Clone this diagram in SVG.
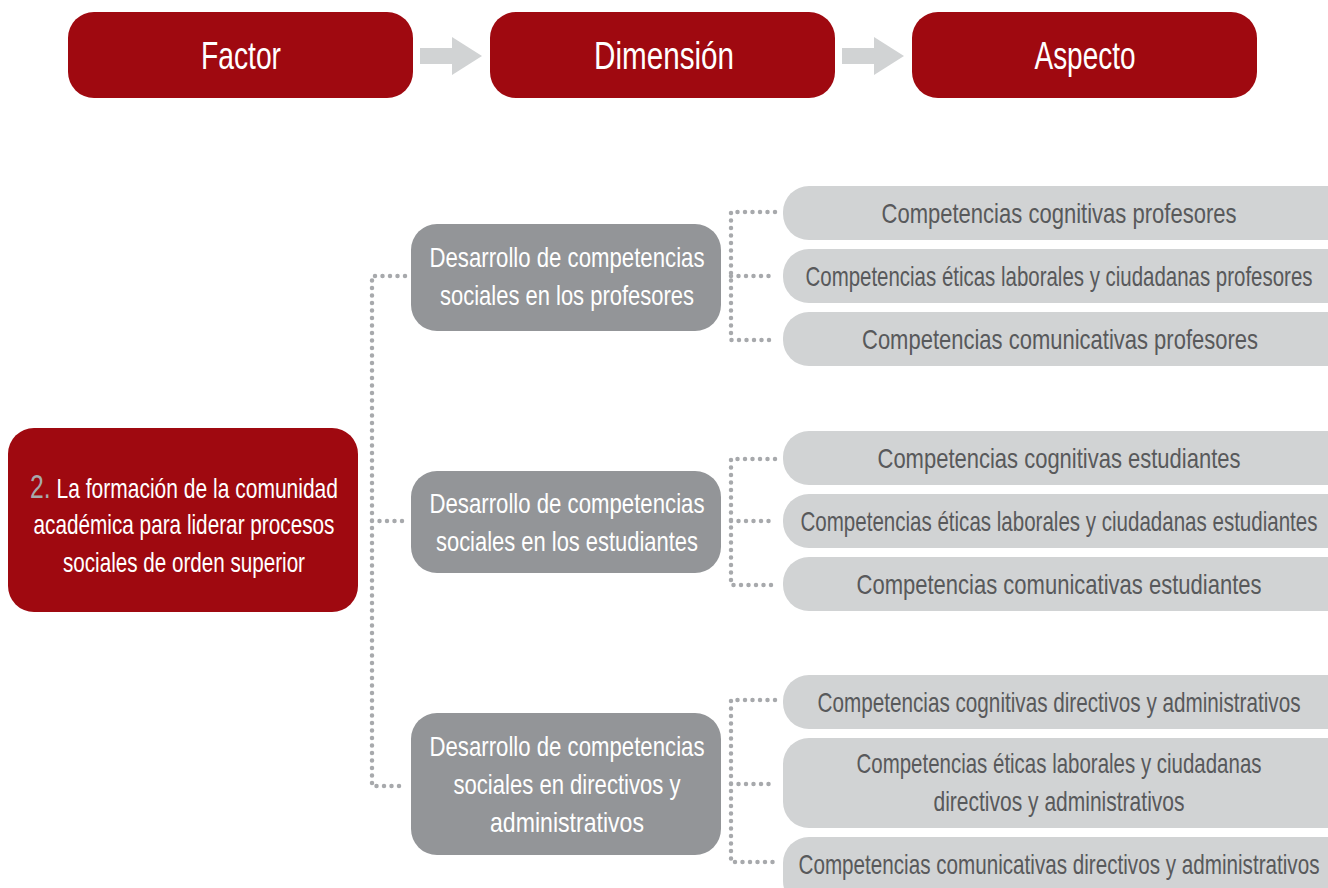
<svg xmlns="http://www.w3.org/2000/svg" width="1328" height="888" viewBox="0 0 1328 888">
<style>
text{font-family:"Liberation Sans",Arial,sans-serif;text-anchor:middle}
.red{fill:#9f0910}
.dim{fill:#939598}
.asp{fill:#d1d3d4}
.hd{fill:#fff;font-size:39px}
.wt{fill:#fff;font-size:28px}
.at{fill:#58595b;font-size:28px}
.dot{fill:none;stroke:#a7a9ac;stroke-width:4.5;stroke-linecap:round;stroke-dasharray:0 7.5}
.arr{fill:#d1d3d4}
</style>
<rect width="1328" height="888" fill="#fff"/>
<g id="header">
<g id="h-factor"><rect class="red" x="68" y="12" width="345" height="86" rx="26"/><text class="hd" x="241" y="69" textLength="80" lengthAdjust="spacingAndGlyphs">Factor</text></g>
<g id="h-dimension"><rect class="red" x="490" y="12" width="345" height="86" rx="26"/><text class="hd" x="664" y="69" textLength="140" lengthAdjust="spacingAndGlyphs">Dimensión</text></g>
<g id="h-aspecto"><rect class="red" x="912" y="12" width="345" height="86" rx="26"/><text class="hd" x="1085" y="69" textLength="101" lengthAdjust="spacingAndGlyphs">Aspecto</text></g>
<polygon class="arr" points="420,48 452,48 452,37 482,56 452,75 452,64 420,64"/>
<polygon class="arr" points="842,48 874,48 874,37 904,56 874,75 874,64 842,64"/>
</g>
<g id="connectors">
<path class="dot" d="M405,276 H372 V786 H405 M372,521 H405"/>
<path class="dot" d="M775,212 H731 V340 H775 M731,276 H775"/>
<path class="dot" d="M775,459 H731 V585 H775 M731,521 H775"/>
<path class="dot" d="M775,700 H731 V862 H775 M731,784 H775"/>
</g>
<g id="factor">
<rect class="red" x="8" y="428" width="350" height="184" rx="26"/>
<text class="wt" x="184" y="498" textLength="308" lengthAdjust="spacingAndGlyphs"><tspan fill="#a7a9ac" font-size="33">2.</tspan> La formación de la comunidad</text>
<text class="wt" x="184" y="534" textLength="301" lengthAdjust="spacingAndGlyphs">académica para liderar procesos</text>
<text class="wt" x="184" y="572" textLength="242" lengthAdjust="spacingAndGlyphs">sociales de orden superior</text>
</g>
<g id="dim-profesores">
<rect class="dim" x="411" y="224" width="310" height="107" rx="26"/>
<text class="wt" x="567" y="267" textLength="275" lengthAdjust="spacingAndGlyphs">Desarrollo de competencias</text>
<text class="wt" x="567" y="305" textLength="254" lengthAdjust="spacingAndGlyphs">sociales en los profesores</text>
</g>
<g id="dim-estudiantes">
<rect class="dim" x="411" y="471" width="310" height="102" rx="26"/>
<text class="wt" x="567" y="513" textLength="275" lengthAdjust="spacingAndGlyphs">Desarrollo de competencias</text>
<text class="wt" x="567" y="551" textLength="262" lengthAdjust="spacingAndGlyphs">sociales en los estudiantes</text>
</g>
<g id="dim-directivos">
<rect class="dim" x="411" y="713" width="310" height="142" rx="26"/>
<text class="wt" x="567" y="756" textLength="275" lengthAdjust="spacingAndGlyphs">Desarrollo de competencias</text>
<text class="wt" x="567" y="794" textLength="227" lengthAdjust="spacingAndGlyphs">sociales en directivos y</text>
<text class="wt" x="567" y="832" textLength="154" lengthAdjust="spacingAndGlyphs">administrativos</text>
</g>
<g id="asp-p1"><rect class="asp" x="783" y="186" width="570" height="54" rx="26"/><text class="at" x="1059" y="223" textLength="355" lengthAdjust="spacingAndGlyphs">Competencias cognitivas profesores</text></g>
<g id="asp-p2"><rect class="asp" x="783" y="249" width="570" height="54" rx="26"/><text class="at" x="1059" y="286" textLength="507" lengthAdjust="spacingAndGlyphs">Competencias éticas laborales y ciudadanas profesores</text></g>
<g id="asp-p3"><rect class="asp" x="783" y="312" width="570" height="54" rx="26"/><text class="at" x="1060" y="349" textLength="396" lengthAdjust="spacingAndGlyphs">Competencias comunicativas profesores</text></g>
<g id="asp-e1"><rect class="asp" x="783" y="431" width="570" height="54" rx="26"/><text class="at" x="1059" y="468" textLength="363" lengthAdjust="spacingAndGlyphs">Competencias cognitivas estudiantes</text></g>
<g id="asp-e2"><rect class="asp" x="783" y="494" width="570" height="54" rx="26"/><text class="at" x="1059" y="531" textLength="517" lengthAdjust="spacingAndGlyphs">Competencias éticas laborales y ciudadanas estudiantes</text></g>
<g id="asp-e3"><rect class="asp" x="783" y="557" width="570" height="54" rx="26"/><text class="at" x="1059" y="594" textLength="405" lengthAdjust="spacingAndGlyphs">Competencias comunicativas estudiantes</text></g>
<g id="asp-d1"><rect class="asp" x="783" y="675" width="570" height="54" rx="26"/><text class="at" x="1059" y="712" textLength="483" lengthAdjust="spacingAndGlyphs">Competencias cognitivas directivos y administrativos</text></g>
<g id="asp-d2"><rect class="asp" x="783" y="738" width="570" height="90" rx="26"/><text class="at" x="1059" y="773" textLength="405" lengthAdjust="spacingAndGlyphs">Competencias éticas laborales y ciudadanas</text><text class="at" x="1059" y="811" textLength="251" lengthAdjust="spacingAndGlyphs">directivos y administrativos</text></g>
<g id="asp-d3"><rect class="asp" x="783" y="837" width="570" height="70" rx="26"/><text class="at" x="1059" y="874" textLength="521" lengthAdjust="spacingAndGlyphs">Competencias comunicativas directivos y administrativos</text></g>
</svg>
